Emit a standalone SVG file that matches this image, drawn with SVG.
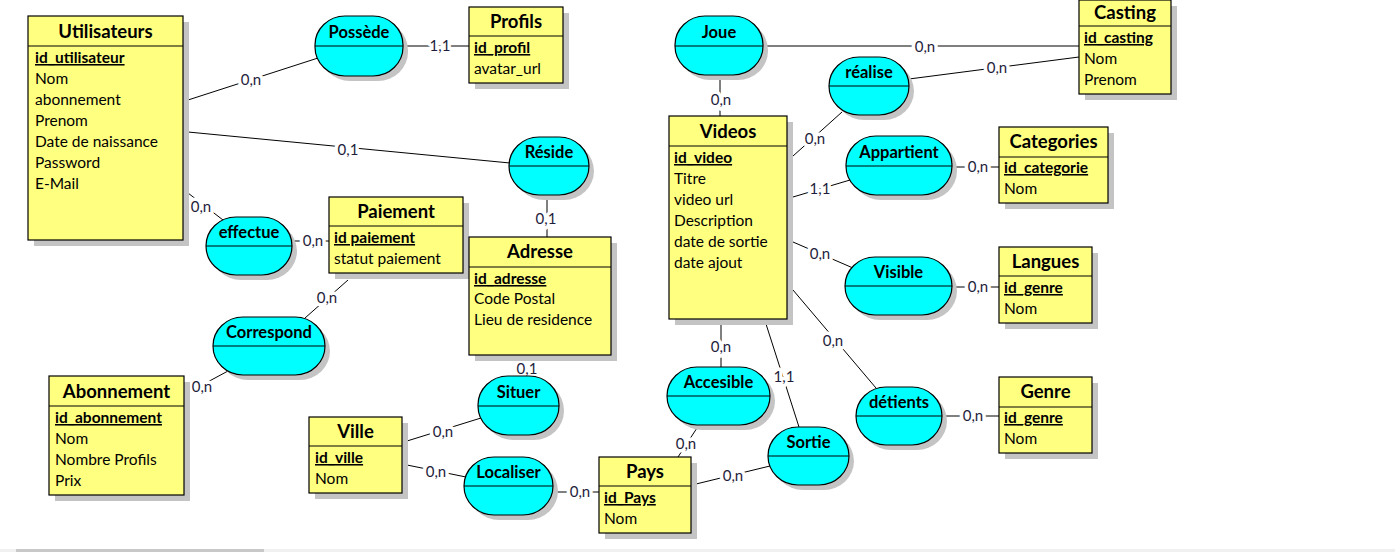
<svg xmlns="http://www.w3.org/2000/svg" width="1395" height="552" viewBox="0 0 1395 552">
<style>
.bg{fill:#ffffff}
.sh{fill:#c4c4c4}
.ent{fill:#ffff80;stroke:#000;stroke-width:1.2}
.rel{fill:#00ffff;stroke:#000;stroke-width:1.2}
.sep{stroke:#000;stroke-width:1.2}
.et{font-family:Lato,"Liberation Sans",sans-serif;font-weight:bold;font-size:18.5px;fill:#000;text-anchor:middle}
.rt{font-family:Lato,"Liberation Sans",sans-serif;font-weight:bold;font-size:16.5px;fill:#000;text-anchor:middle}
.pk{font-family:Lato,"Liberation Sans",sans-serif;font-weight:bold;font-size:15.5px;fill:#000;text-decoration:underline}
.at{font-family:Lato,"Liberation Sans",sans-serif;font-size:15.5px;fill:#000}
.cn line{stroke:#000;stroke-width:1}
.lb{font-family:Lato,"Liberation Sans",sans-serif;font-size:15px;fill:#1e1e3c;text-anchor:middle;stroke:#fff;stroke-width:7;paint-order:stroke;stroke-linejoin:round}
</style>
<rect class="bg" x="0" y="0" width="1395" height="552"/>

<g id="connectors" class="cn">
<line x1="188" y1="100" x2="318" y2="58"/>
<line x1="403" y1="46" x2="469" y2="46"/>
<line x1="188" y1="132" x2="510" y2="163"/>
<line x1="188" y1="193" x2="223" y2="220"/>
<line x1="292" y1="241" x2="329" y2="241"/>
<line x1="348" y1="280" x2="305" y2="318"/>
<line x1="189" y1="392" x2="228" y2="371"/>
<line x1="547" y1="200" x2="547" y2="237"/>
<line x1="527" y1="364" x2="527" y2="376"/>
<line x1="407" y1="441" x2="481" y2="418"/>
<line x1="407" y1="465" x2="466" y2="477"/>
<line x1="553" y1="492" x2="599" y2="492"/>
<line x1="696" y1="484" x2="770" y2="466"/>
<line x1="697" y1="428" x2="678" y2="457"/>
<line x1="721" y1="324" x2="721" y2="367"/>
<line x1="766" y1="324" x2="799" y2="427"/>
<line x1="793" y1="290" x2="876" y2="388"/>
<line x1="942" y1="416" x2="999" y2="416"/>
<line x1="793" y1="242" x2="853" y2="268"/>
<line x1="952" y1="287" x2="999" y2="287"/>
<line x1="793" y1="197" x2="850" y2="180"/>
<line x1="952" y1="167" x2="999" y2="167"/>
<line x1="793" y1="156" x2="842" y2="112"/>
<line x1="909" y1="79" x2="1079" y2="57"/>
<line x1="763" y1="46" x2="1079" y2="46"/>
<line x1="720" y1="76" x2="720" y2="116"/>
<text class="lb" x="251" y="85">0,n</text>
<text class="lb" x="440" y="51">1,1</text>
<text class="lb" x="348" y="155">0,1</text>
<text class="lb" x="201" y="212">0,n</text>
<text class="lb" x="313" y="246">0,n</text>
<text class="lb" x="327" y="303">0,n</text>
<text class="lb" x="202" y="392">0,n</text>
<text class="lb" x="546" y="224">0,1</text>
<text class="lb" x="527" y="374">0,1</text>
<text class="lb" x="443" y="437">0,n</text>
<text class="lb" x="436" y="477">0,n</text>
<text class="lb" x="580" y="497">0,n</text>
<text class="lb" x="733" y="481">0,n</text>
<text class="lb" x="686" y="449">0,n</text>
<text class="lb" x="721" y="352">0,n</text>
<text class="lb" x="784" y="382">1,1</text>
<text class="lb" x="833" y="346">0,n</text>
<text class="lb" x="973" y="421">0,n</text>
<text class="lb" x="820" y="259">0,n</text>
<text class="lb" x="978" y="292">0,n</text>
<text class="lb" x="820" y="194">1,1</text>
<text class="lb" x="978" y="172">0,n</text>
<text class="lb" x="815" y="144">0,n</text>
<text class="lb" x="997" y="73">0,n</text>
<text class="lb" x="925" y="52">0,n</text>
<text class="lb" x="721" y="105">0,n</text>
</g>

<g id="utilisateurs">
<rect class="sh" x="34" y="22" width="155" height="224"/>
<rect class="ent" x="28" y="16" width="155" height="224"/>
<line class="sep" x1="28" y1="46" x2="183" y2="46"/>
<text class="et" x="105.5" y="38">Utilisateurs</text>
<text class="pk" x="35" y="63">id_utilisateur</text>
<text class="at" x="35" y="84">Nom</text>
<text class="at" x="35" y="105">abonnement</text>
<text class="at" x="35" y="126">Prenom</text>
<text class="at" x="35" y="147">Date de naissance</text>
<text class="at" x="35" y="168">Password</text>
<text class="at" x="35" y="189">E-Mail</text>
</g>

<g id="profils">
<rect class="sh" x="475" y="13" width="94" height="76"/>
<rect class="ent" x="469" y="7" width="94" height="76"/>
<line class="sep" x1="469" y1="36" x2="563" y2="36"/>
<text class="et" x="516" y="28">Profils</text>
<text class="pk" x="474" y="53">id_profil</text>
<text class="at" x="474" y="74">avatar_url</text>
</g>

<g id="paiement">
<rect class="sh" x="335" y="203" width="134" height="76"/>
<rect class="ent" x="329" y="197" width="134" height="76"/>
<line class="sep" x1="329" y1="226" x2="463" y2="226"/>
<text class="et" x="396" y="218">Paiement</text>
<text class="pk" x="334" y="243">id paiement</text>
<text class="at" x="334" y="264">statut paiement</text>
</g>

<g id="adresse">
<rect class="sh" x="475" y="243" width="142" height="118"/>
<rect class="ent" x="469" y="237" width="142" height="118"/>
<line class="sep" x1="469" y1="267" x2="611" y2="267"/>
<text class="et" x="540" y="258">Adresse</text>
<text class="pk" x="474" y="284">id_adresse</text>
<text class="at" x="474" y="304">Code Postal</text>
<text class="at" x="474" y="325">Lieu de residence</text>
</g>

<g id="abonnement">
<rect class="sh" x="55" y="382" width="135" height="119"/>
<rect class="ent" x="49" y="376" width="135" height="119"/>
<line class="sep" x1="49" y1="406" x2="184" y2="406"/>
<text class="et" x="116.5" y="398">Abonnement</text>
<text class="pk" x="55" y="423">id_abonnement</text>
<text class="at" x="55" y="444">Nom</text>
<text class="at" x="55" y="465">Nombre Profils</text>
<text class="at" x="55" y="486">Prix</text>
</g>

<g id="ville">
<rect class="sh" x="315" y="423" width="93" height="76"/>
<rect class="ent" x="309" y="417" width="93" height="76"/>
<line class="sep" x1="309" y1="446" x2="402" y2="446"/>
<text class="et" x="355.5" y="438">Ville</text>
<text class="pk" x="315" y="463">id_ville</text>
<text class="at" x="315" y="484">Nom</text>
</g>

<g id="pays">
<rect class="sh" x="605" y="463" width="92" height="76"/>
<rect class="ent" x="599" y="457" width="92" height="76"/>
<line class="sep" x1="599" y1="486" x2="691" y2="486"/>
<text class="et" x="645" y="478">Pays</text>
<text class="pk" x="604" y="503">id_Pays</text>
<text class="at" x="604" y="524">Nom</text>
</g>

<g id="videos">
<rect class="sh" x="675" y="122" width="118" height="203"/>
<rect class="ent" x="669" y="116" width="118" height="203"/>
<line class="sep" x1="669" y1="146" x2="787" y2="146"/>
<text class="et" x="728" y="138">Videos</text>
<text class="pk" x="674" y="163">id_video</text>
<text class="at" x="674" y="184">Titre</text>
<text class="at" x="674" y="205">video url</text>
<text class="at" x="674" y="226">Description</text>
<text class="at" x="674" y="247">date de sortie</text>
<text class="at" x="674" y="268">date ajout</text>
</g>

<g id="casting">
<rect class="sh" x="1085" y="6" width="92" height="94"/>
<rect class="ent" x="1079" y="0" width="92" height="94"/>
<line class="sep" x1="1079" y1="26" x2="1171" y2="26"/>
<text class="et" x="1125" y="19">Casting</text>
<text class="pk" x="1084" y="43">id_casting</text>
<text class="at" x="1084" y="64">Nom</text>
<text class="at" x="1084" y="85">Prenom</text>
</g>

<g id="categories">
<rect class="sh" x="1005" y="133" width="109" height="76"/>
<rect class="ent" x="999" y="127" width="109" height="76"/>
<line class="sep" x1="999" y1="157" x2="1108" y2="157"/>
<text class="et" x="1053.5" y="148">Categories</text>
<text class="pk" x="1004" y="173">id_categorie</text>
<text class="at" x="1004" y="194">Nom</text>
</g>

<g id="langues">
<rect class="sh" x="1005" y="253" width="93" height="76"/>
<rect class="ent" x="999" y="247" width="93" height="76"/>
<line class="sep" x1="999" y1="276" x2="1092" y2="276"/>
<text class="et" x="1045.5" y="268">Langues</text>
<text class="pk" x="1004" y="293">id_genre</text>
<text class="at" x="1004" y="314">Nom</text>
</g>

<g id="genre">
<rect class="sh" x="1005" y="383" width="93" height="76"/>
<rect class="ent" x="999" y="377" width="93" height="76"/>
<line class="sep" x1="999" y1="407" x2="1092" y2="407"/>
<text class="et" x="1045.5" y="398">Genre</text>
<text class="pk" x="1004" y="423">id_genre</text>
<text class="at" x="1004" y="444">Nom</text>
</g>

<g id="possede">
<rect class="sh" x="320" y="21" width="88" height="60" rx="30" ry="29"/>
<rect class="rel" x="315" y="16" width="88" height="60" rx="30" ry="29"/>
<line class="sep" x1="315" y1="46" x2="403" y2="46"/>
<text class="rt" x="359" y="38">Possède</text>
</g>

<g id="joue">
<rect class="sh" x="680" y="21" width="88" height="59" rx="30" ry="29"/>
<rect class="rel" x="675" y="16" width="88" height="59" rx="30" ry="29"/>
<line class="sep" x1="675" y1="46" x2="763" y2="46"/>
<text class="rt" x="719" y="38">Joue</text>
</g>

<g id="realise">
<rect class="sh" x="834" y="62" width="80" height="58" rx="30" ry="29"/>
<rect class="rel" x="829" y="57" width="80" height="58" rx="30" ry="29"/>
<line class="sep" x1="829" y1="86" x2="909" y2="86"/>
<text class="rt" x="869" y="78">réalise</text>
</g>

<g id="reside">
<rect class="sh" x="514" y="142" width="80" height="58" rx="30" ry="29"/>
<rect class="rel" x="509" y="137" width="80" height="58" rx="30" ry="29"/>
<line class="sep" x1="509" y1="166" x2="589" y2="166"/>
<text class="rt" x="549" y="158">Réside</text>
</g>

<g id="appartient">
<rect class="sh" x="851" y="141" width="106" height="59" rx="30" ry="29"/>
<rect class="rel" x="846" y="136" width="106" height="59" rx="30" ry="29"/>
<line class="sep" x1="846" y1="166" x2="952" y2="166"/>
<text class="rt" x="899" y="158">Appartient</text>
</g>

<g id="effectue">
<rect class="sh" x="211" y="222" width="86" height="58" rx="30" ry="29"/>
<rect class="rel" x="206" y="217" width="86" height="58" rx="30" ry="29"/>
<line class="sep" x1="206" y1="246" x2="292" y2="246"/>
<text class="rt" x="249" y="238">effectue</text>
</g>

<g id="correspond">
<rect class="sh" x="218" y="322" width="112" height="58" rx="30" ry="29"/>
<rect class="rel" x="213" y="317" width="112" height="58" rx="30" ry="29"/>
<line class="sep" x1="213" y1="346" x2="325" y2="346"/>
<text class="rt" x="269" y="338">Correspond</text>
</g>

<g id="visible">
<rect class="sh" x="850" y="262" width="107" height="58" rx="30" ry="29"/>
<rect class="rel" x="845" y="257" width="107" height="58" rx="30" ry="29"/>
<line class="sep" x1="845" y1="286" x2="952" y2="286"/>
<text class="rt" x="898.5" y="278">Visible</text>
</g>

<g id="situer">
<rect class="sh" x="483" y="381" width="81" height="59" rx="30" ry="29"/>
<rect class="rel" x="478" y="376" width="81" height="59" rx="30" ry="29"/>
<line class="sep" x1="478" y1="406" x2="559" y2="406"/>
<text class="rt" x="518.5" y="398">Situer</text>
</g>

<g id="localiser">
<rect class="sh" x="469" y="462" width="89" height="58" rx="30" ry="29"/>
<rect class="rel" x="464" y="457" width="89" height="58" rx="30" ry="29"/>
<line class="sep" x1="464" y1="486" x2="553" y2="486"/>
<text class="rt" x="508.5" y="478">Localiser</text>
</g>

<g id="accesible">
<rect class="sh" x="672" y="372" width="103" height="58" rx="30" ry="29"/>
<rect class="rel" x="667" y="367" width="103" height="58" rx="30" ry="29"/>
<line class="sep" x1="667" y1="396" x2="770" y2="396"/>
<text class="rt" x="718.5" y="388">Accesible</text>
</g>

<g id="sortie">
<rect class="sh" x="773" y="432" width="81" height="58" rx="30" ry="29"/>
<rect class="rel" x="768" y="427" width="81" height="58" rx="30" ry="29"/>
<line class="sep" x1="768" y1="456" x2="849" y2="456"/>
<text class="rt" x="808.5" y="448">Sortie</text>
</g>

<g id="detients">
<rect class="sh" x="861" y="392" width="86" height="58" rx="30" ry="29"/>
<rect class="rel" x="856" y="387" width="86" height="58" rx="30" ry="29"/>
<line class="sep" x1="856" y1="416" x2="942" y2="416"/>
<text class="rt" x="899" y="408">détients</text>
</g>

<rect x="0" y="549" width="1395" height="3" fill="#f0f0f0"/>
<rect x="16" y="549" width="248" height="3" fill="#c8c8c8"/>
</svg>
